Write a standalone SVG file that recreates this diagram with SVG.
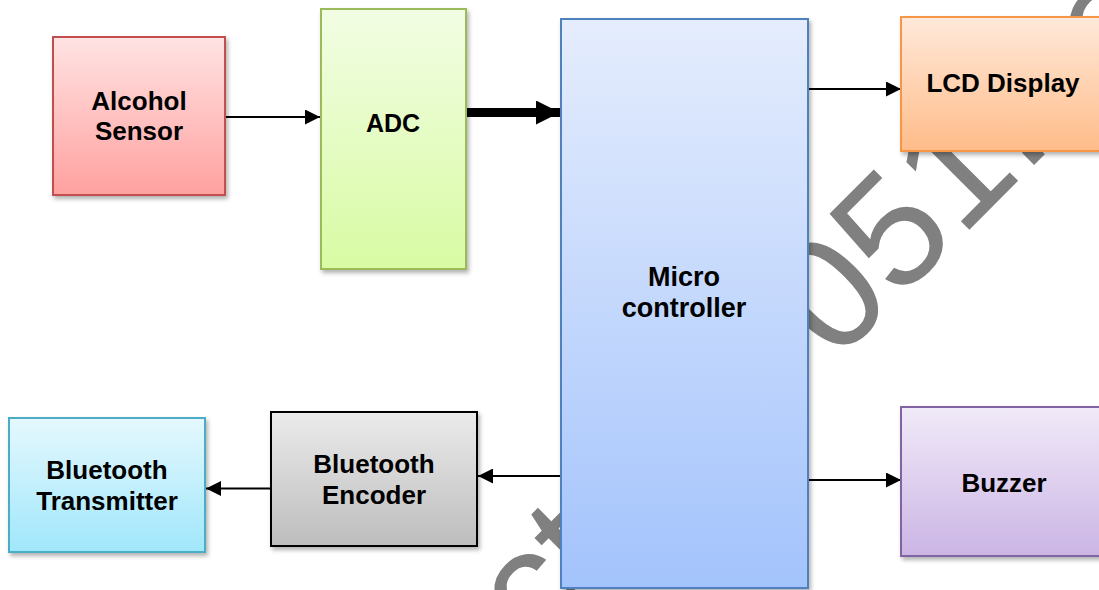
<svg xmlns="http://www.w3.org/2000/svg" width="1099" height="590" viewBox="0 0 1099 590">
<style>
.lbl{font-family:"Liberation Sans",Arial,sans-serif;font-weight:bold;font-size:26px;fill:#000;text-anchor:middle}
.wm{font-family:"Liberation Sans",Arial,sans-serif;font-size:160px;fill:#808080}
.box{stroke-width:2;filter:url(#sh)}
.conn{stroke:#000;stroke-width:2;fill:none}
</style>
<defs>
<filter id="sh" x="-10%" y="-10%" width="130%" height="130%">
<feDropShadow dx="2" dy="3" stdDeviation="2" flood-color="#000" flood-opacity="0.3"/>
</filter>
<linearGradient id="gRed" x1="0" y1="0" x2="0" y2="1"><stop offset="0" stop-color="#FFE3E3"/><stop offset="1" stop-color="#FFA19F"/></linearGradient>
<linearGradient id="gGreen" x1="0" y1="0" x2="0" y2="1"><stop offset="0" stop-color="#F2FDE4"/><stop offset="1" stop-color="#D8FBA3"/></linearGradient>
<linearGradient id="gBlue" x1="0" y1="0" x2="0" y2="1"><stop offset="0" stop-color="#E5EDFD"/><stop offset="1" stop-color="#A3C3FC"/></linearGradient>
<linearGradient id="gOrange" x1="0" y1="0" x2="0" y2="1"><stop offset="0" stop-color="#FFE9DA"/><stop offset="1" stop-color="#FFBC89"/></linearGradient>
<linearGradient id="gPurple" x1="0" y1="0" x2="0" y2="1"><stop offset="0" stop-color="#F1EAF8"/><stop offset="1" stop-color="#CBB5E5"/></linearGradient>
<linearGradient id="gGray" x1="0" y1="0" x2="0" y2="1"><stop offset="0" stop-color="#EBEBEB"/><stop offset="1" stop-color="#BDBDBD"/></linearGradient>
<linearGradient id="gCyan" x1="0" y1="0" x2="0" y2="1"><stop offset="0" stop-color="#E5F8FE"/><stop offset="1" stop-color="#A0E7FB"/></linearGradient>
<marker id="ah" markerUnits="userSpaceOnUse" markerWidth="15" markerHeight="15" refX="15" refY="7.5" orient="auto">
<path d="M0,0 L15,7.5 L0,15 z" fill="#000"/>
</marker>
<marker id="ahBig" markerUnits="userSpaceOnUse" markerWidth="24" markerHeight="24" refX="24" refY="12" orient="auto">
<path d="M0,0 L24,12 L0,24 z" fill="#000"/>
</marker>
</defs>
<rect width="1099" height="590" fill="#fff"/>
<g id="watermark">
<text class="wm" transform="translate(536,656) rotate(-45)">ct</text>
<text class="wm" transform="translate(835,364) rotate(-45)">051.co</text>
</g>
<g id="connectors">
<line class="conn" x1="225" y1="117" x2="320" y2="117" marker-end="url(#ah)"/>
<line x1="467" y1="112.5" x2="560" y2="112.5" stroke="#000" stroke-width="9" marker-end="url(#ahBig)"/>
<line class="conn" x1="808" y1="89" x2="901" y2="89" marker-end="url(#ah)"/>
<line class="conn" x1="808" y1="480" x2="901" y2="480" marker-end="url(#ah)"/>
<line class="conn" x1="560" y1="476" x2="478" y2="476" marker-end="url(#ah)"/>
<line class="conn" x1="271" y1="488.5" x2="206" y2="488.5" marker-end="url(#ah)"/>
</g>
<g id="alcohol-sensor">
<rect class="box" x="53" y="37" width="172" height="158" fill="url(#gRed)" stroke="#C0504D"/>
<text class="lbl" x="139" y="110">Alcohol</text>
<text class="lbl" x="139" y="140">Sensor</text>
</g>
<g id="adc">
<rect class="box" x="321" y="9" width="145" height="260" fill="url(#gGreen)" stroke="#9BBB59"/>
<text class="lbl" x="393" y="132" style="font-size:25px">ADC</text>
</g>
<g id="microcontroller">
<rect class="box" x="561" y="19" width="247" height="569" fill="url(#gBlue)" stroke="#4F81BD"/>
<text class="lbl" x="684" y="286" style="font-size:27px">Micro</text>
<text class="lbl" x="684" y="317" style="font-size:27px">controller</text>
</g>
<g id="lcd-display">
<rect class="box" x="901" y="17" width="210" height="134" fill="url(#gOrange)" stroke="#F79646"/>
<text class="lbl" x="1003" y="92">LCD Display</text>
</g>
<g id="buzzer">
<rect class="box" x="901" y="407" width="210" height="149" fill="url(#gPurple)" stroke="#8064A2"/>
<text class="lbl" x="1004" y="492">Buzzer</text>
</g>
<g id="bluetooth-encoder">
<rect class="box" x="271" y="412" width="206" height="134" fill="url(#gGray)" stroke="#000"/>
<text class="lbl" x="374" y="473">Bluetooth</text>
<text class="lbl" x="374" y="504">Encoder</text>
</g>
<g id="bluetooth-transmitter">
<rect class="box" x="9" y="418" width="196" height="134" fill="url(#gCyan)" stroke="#4BACC6"/>
<text class="lbl" x="107" y="479">Bluetooth</text>
<text class="lbl" x="107" y="510">Transmitter</text>
</g>
</svg>
